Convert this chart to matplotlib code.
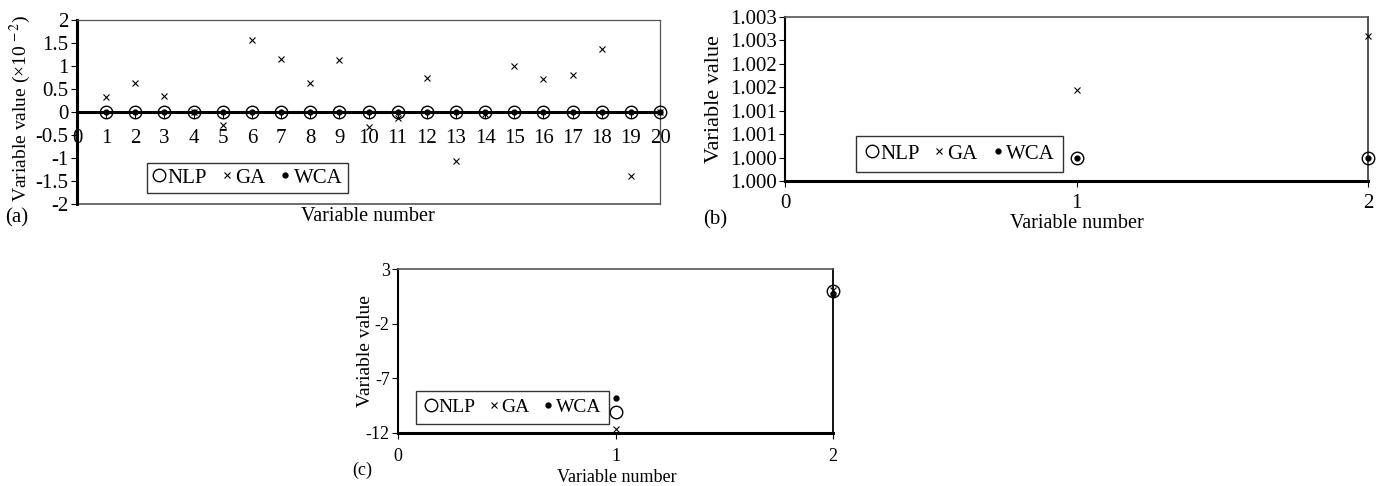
import numpy as np
import matplotlib.pyplot as plt
from matplotlib.lines import Line2D

plt.rcParams['font.family'] = ['Liberation Serif', 'DejaVu Serif']
plt.rcParams['mathtext.fontset'] = 'stix'
plt.rcParams['axes.unicode_minus'] = False

# (a) 20 variables, values in units of 1e-2
a_var = np.arange(1, 21)
a_nlp = [0] * 20
a_wca = [0] * 20
a_ga = [0.32, 0.64, 0.34, 0.0, -0.29, 1.56, 1.15, 0.63, 1.14, -0.33,
        -0.13, 0.73, -1.07, -0.05, 1.01, 0.71, 0.80, 1.36, -1.39, 0.0]
a_yticks = [2, 1.5, 1, 0.5, 0, -0.5, -1, -1.5, -2]

# (b) 2 variables
b_var = [1, 2]
b_nlp = [1.0005, 1.0005]
b_wca = [1.0005, 1.0005]
b_ga = [1.00195, 1.0031]
b_yticks = [1.0000, 1.0005, 1.0010, 1.0015, 1.0020, 1.0025, 1.0030, 1.0035]
b_ylabels = ['1.000', '1.000', '1.001', '1.001', '1.002', '1.002', '1.003', '1.003']

# (c) 2 variables
c_var = [1, 2]
c_nlp = [-10.1, 1.0]
c_wca = [-8.8, 0.75]
c_ga = [-11.6, 1.1]
c_yticks = [3, -2, -7, -12]

fig = plt.figure(figsize=(13.82, 4.86), dpi=100)

gray = '#555555'


def draw_points(ax, x, nlp, ga, wca):
    ax.plot(x, nlp, 'o', mfc='none', mec='black', ms=9, mew=1, clip_on=False, zorder=5)
    ax.plot(x, ga, 'x', color='black', ms=4, mew=0.8, clip_on=False, zorder=5)
    ax.plot(x, wca, 'o', color='black', ms=3.5, clip_on=False, zorder=6)
    handles = [
        Line2D([], [], ls='none', marker='o', mfc='none', mec='black', ms=9, mew=1),
        Line2D([], [], ls='none', marker='x', color='black', ms=4, mew=0.8),
        Line2D([], [], ls='none', marker='o', color='black', ms=3.5),
    ]
    return handles


def add_legend(ax, handles, anchor, fs, bpad):
    leg = ax.legend(handles, ['NLP', 'GA', 'WCA'], ncol=3, loc='lower left',
                    bbox_to_anchor=anchor, borderaxespad=0, fontsize=fs,
                    fancybox=False, frameon=True, handlelength=0.7,
                    handletextpad=0.05, columnspacing=0.6, borderpad=bpad)
    leg.get_frame().set_edgecolor('black')
    leg.get_frame().set_linewidth(1)


# ---- (a)
ax = fig.add_axes([0.0557, 0.5802, 0.4219, 0.3786])
h = draw_points(ax, a_var, a_nlp, a_ga, a_wca)
ax.set_xlim(0, 20)
ax.set_ylim(-2, 2)
ax.set_xticks(range(0, 21))
ax.set_yticks(a_yticks)
ax.set_yticklabels([str(v) for v in a_yticks])
ax.spines['bottom'].set_position(('data', 0))
ax.spines['bottom'].set_linewidth(2.2)
ax.spines['left'].set_linewidth(2.2)
for s in ['top', 'right']:
    ax.spines[s].set_color(gray)
    ax.spines[s].set_linewidth(0.9)
ax.axhline(-2, color=gray, lw=1.2, clip_on=False)
ax.tick_params(axis='both', direction='out', length=4, labelsize=15)
ax.tick_params(axis='x', pad=8.5)
ax.tick_params(axis='y', pad=2)
ax.set_ylabel('Variable value (×10$^{\\,-2}$)', fontsize=14)
ax.yaxis.set_label_coords(-0.076, 0.52)
add_legend(ax, h, (0.12, 0.06), 15, 0.25)
fig.text(0.2663, 0.5535, 'Variable number', ha='center', va='center', fontsize=14.5)
fig.text(0.0123, 0.5514, '(a)', ha='center', va='center', fontsize=15)

# ---- (b)
ax = fig.add_axes([0.568, 0.6276, 0.4219, 0.3374])
h = draw_points(ax, b_var, b_nlp, b_ga, b_wca)
ax.set_xlim(0, 2)
ax.set_ylim(1.0000, 1.0035)
ax.set_xticks([0, 1, 2])
ax.set_yticks(b_yticks)
ax.set_yticklabels(b_ylabels)
ax.spines['bottom'].set_linewidth(2.2)
ax.spines['left'].set_linewidth(1.5)
ax.spines['top'].set_color(gray)
ax.spines['top'].set_linewidth(1.2)
ax.spines['right'].set_color('#333333')
ax.spines['right'].set_linewidth(1.2)
ax.tick_params(axis='both', direction='out', length=4, labelsize=15)
ax.tick_params(axis='x', pad=5.5)
ax.tick_params(axis='y', pad=2)
ax.set_ylabel('Variable value', fontsize=16)
ax.yaxis.set_label_coords(-0.104, 0.5)
add_legend(ax, h, (0.1218, 0.055), 15, 0.4)
fig.text(0.7793, 0.541, 'Variable number', ha='center', va='center', fontsize=14.5)
fig.text(0.5174, 0.547, '(b)', ha='center', va='center', fontsize=15)

# ---- (c)
ax = fig.add_axes([0.288, 0.1091, 0.3148, 0.3374])
h = draw_points(ax, c_var, c_nlp, c_ga, c_wca)
ax.set_xlim(0, 2)
ax.set_ylim(-12, 3)
ax.set_xticks([0, 1, 2])
ax.set_yticks(c_yticks)
ax.spines['bottom'].set_linewidth(2.2)
ax.spines['left'].set_linewidth(1.5)
ax.spines['top'].set_color(gray)
ax.spines['top'].set_linewidth(1.2)
ax.spines['right'].set_linewidth(1.3)
ax.tick_params(axis='both', direction='out', length=4, labelsize=13)
ax.tick_params(axis='x', pad=7)
ax.tick_params(axis='y', pad=2)
ax.set_ylabel('Variable value', fontsize=14)
ax.yaxis.set_label_coords(-0.055, 0.5)
add_legend(ax, h, (0.0414, 0.055), 14, 0.4)
fig.text(0.4465, 0.0185, 'Variable number', ha='center', va='center', fontsize=13)
fig.text(0.262, 0.033, '(c)', ha='center', va='center', fontsize=13)

fig.savefig('out.png', dpi=100)
